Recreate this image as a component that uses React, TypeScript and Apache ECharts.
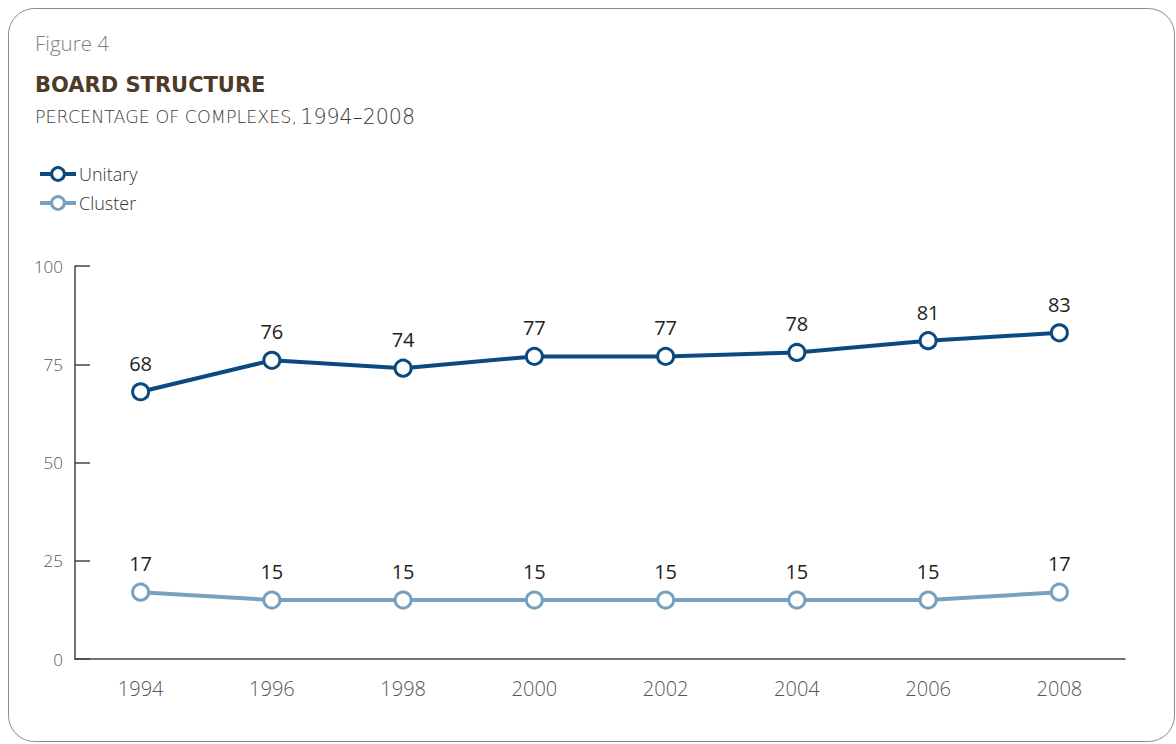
import React, { useEffect, useRef } from "react";
import * as echarts from "echarts";

const years = ["1994", "1996", "1998", "2000", "2002", "2004", "2006", "2008"];
const unitary = [68, 76, 74, 77, 77, 78, 81, 83];
const cluster = [17, 15, 15, 15, 15, 15, 15, 17];
const yTicks = [0, 25, 50, 75, 100];

const FONT = "'Open Sans', 'Noto Sans', sans-serif";
const WIDE = "'DejaVu Sans', sans-serif";
const UNI = "#0b4a80";
const CLU = "#77a2bf";

export default function App() {
  const ref = useRef<HTMLDivElement>(null);
  useEffect(() => {
    if (!ref.current) return;
    const chart = echarts.init(ref.current, null, { renderer: "svg" });
    const mkSeries = (name: string, data: number[], color: string) => ({
      name,
      type: "line",
      data,
      symbol: "circle",
      symbolSize: 16,
      itemStyle: { color: "#ffffff", borderColor: color, borderWidth: 3 },
      lineStyle: { color, width: 4 },
      label: {
        show: true,
        position: "top",
        distance: 9,
        color: "#222",
        fontSize: 20,
        fontFamily: FONT,
      },
      z: 3,
    });
    chart.setOption({
      animation: false,
      backgroundColor: "#ffffff",
      graphic: [
        {
          type: "rect",
          shape: { x: 8.5, y: 8.5, width: 1166, height: 733, r: 26 },
          style: { fill: "none", stroke: "#8a8a8a", lineWidth: 1 },
          silent: true,
        },
        {
          type: "text",
          x: 35,
          y: 32,
          style: { text: "Figure 4", fontSize: 20.5, fill: "#808080", fontFamily: FONT, fontWeight: 300 },
        },
        {
          type: "text",
          x: 35,
          y: 74,
          style: {
            text: "BOARD STRUCTURE",
            fontSize: 21,
            fontWeight: "bold",
            fill: "#4d3a28",
            fontFamily: WIDE,
          },
        },
        {
          type: "text",
          x: 35,
          y: 106,
          style: {
            text: "{a|PERCENTAGE OF COMPLEXES,} {b|1994–2008}",
            rich: {
              a: { fontSize: 17.5, fill: "#3a3a3a", fontFamily: WIDE, fontWeight: 300 },
              b: { fontSize: 20.5, fill: "#3a3a3a", fontFamily: WIDE, fontWeight: 300 },
            },
          },
        },
      ],
      legend: {
        left: 33,
        top: 160,
        orient: "vertical",
        itemWidth: 36,
        itemHeight: 16,
        itemGap: 11,
        lineStyle: { width: 4 },
        itemStyle: { borderWidth: 3 },
        textStyle: { fontSize: 18, color: "#333", fontFamily: FONT, fontWeight: 300, padding: [0, 0, 0, -2] },
        data: ["Unitary", "Cluster"],
      },
      grid: { left: 75, right: 51, top: 266, bottom: 85, containLabel: false },
      xAxis: {
        type: "category",
        data: years,
        boundaryGap: true,
        axisLine: { lineStyle: { color: "#444", width: 1.5 } },
        axisTick: { show: false },
        axisLabel: { color: "#555", fontSize: 20, fontFamily: FONT, fontWeight: 300, margin: 19 },
      },
      yAxis: {
        type: "value",
        min: 0,
        max: 100,
        interval: 25,
        axisLine: { show: true, lineStyle: { color: "#444", width: 1.5 } },
        axisTick: { show: true, inside: true, length: 15, lineStyle: { color: "#444", width: 1.5 } },
        splitLine: { show: false },
        axisLabel: {
          color: "#555",
          fontSize: 17,
          fontFamily: FONT,
          fontWeight: 300,
          margin: 12,
          formatter: (v: number) => (yTicks.includes(v) ? String(v) : ""),
        },
      },
      series: [mkSeries("Unitary", unitary, UNI), mkSeries("Cluster", cluster, CLU)],
    });
    return () => chart.dispose();
  }, []);
  return (
    <div
      ref={ref}
      style={{ position: "absolute", left: 0, top: 0, width: 1176, height: 744 }}
    />
  );
}
